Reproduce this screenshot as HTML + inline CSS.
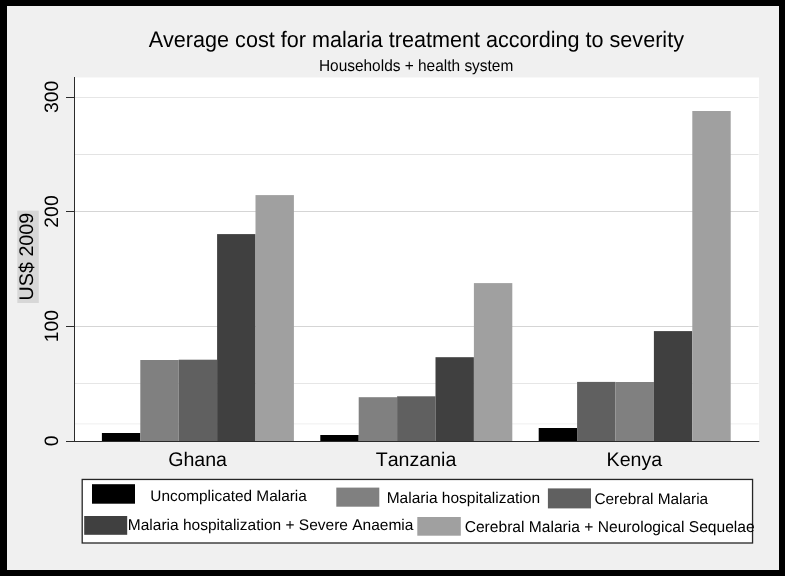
<!DOCTYPE html>
<html><head><meta charset="utf-8"><style>
html,body{margin:0;padding:0;background:#000;}
svg{display:block;will-change:transform;}
text{font-family:"Liberation Sans",sans-serif;fill:#000;font-kerning:none;text-rendering:geometricPrecision;}
</style></head><body>
<svg width="785" height="576" viewBox="0 0 785 576">
<rect x="0" y="0" width="785" height="576" fill="#000"/>
<rect x="7" y="6" width="772" height="564" fill="#f0f0f0"/>
<rect x="75" y="77.5" width="684" height="363.5" fill="#fff"/>
<rect x="75" y="97" width="683.5" height="1" fill="#e6e6e6"/>
<rect x="75" y="154" width="683.5" height="1" fill="#e3e3e3"/>
<rect x="75" y="211" width="683.5" height="1" fill="#d5d5d5"/>
<rect x="75" y="326" width="683.5" height="1" fill="#d5d5d5"/>
<rect x="75" y="383" width="683.5" height="1" fill="#e6e6e6"/>
<rect x="75" y="423.4" width="683.5" height="1" fill="#efefef"/>
<rect x="101.90" y="433.00" width="38.40" height="8.00" fill="#000000"/>
<rect x="140.30" y="360.00" width="38.40" height="81.00" fill="#808080"/>
<rect x="178.70" y="359.70" width="38.40" height="81.30" fill="#606060"/>
<rect x="217.10" y="234.10" width="38.40" height="206.90" fill="#404040"/>
<rect x="255.50" y="195.10" width="38.40" height="245.90" fill="#a0a0a0"/>
<rect x="320.30" y="435.00" width="38.40" height="6.00" fill="#000000"/>
<rect x="358.70" y="397.20" width="38.40" height="43.80" fill="#808080"/>
<rect x="397.10" y="396.30" width="38.40" height="44.70" fill="#606060"/>
<rect x="435.50" y="357.20" width="38.40" height="83.80" fill="#404040"/>
<rect x="473.90" y="283.10" width="38.40" height="157.90" fill="#a0a0a0"/>
<rect x="538.70" y="428.00" width="38.40" height="13.00" fill="#000000"/>
<rect x="577.10" y="381.90" width="38.40" height="59.10" fill="#606060"/>
<rect x="615.50" y="382.00" width="38.40" height="59.00" fill="#808080"/>
<rect x="653.90" y="331.10" width="38.40" height="109.90" fill="#404040"/>
<rect x="692.30" y="111.00" width="38.40" height="330.00" fill="#a0a0a0"/>
<rect x="74" y="77" width="1" height="365" fill="#2b2b2b"/>
<rect x="66" y="441" width="693.3" height="1" fill="#2b2b2b"/>
<rect x="66" y="97" width="8" height="1" fill="#2b2b2b"/>
<rect x="66" y="211" width="8" height="1" fill="#2b2b2b"/>
<rect x="66" y="326" width="8" height="1" fill="#2b2b2b"/>
<text transform="translate(58.2,440.8) rotate(-90)" text-anchor="middle" font-size="19.4">0</text>
<text transform="translate(58.2,326.1) rotate(-90)" text-anchor="middle" font-size="19.4">100</text>
<text transform="translate(58.2,211.5) rotate(-90)" text-anchor="middle" font-size="19.4">200</text>
<text transform="translate(58.2,96.8) rotate(-90)" text-anchor="middle" font-size="19.4">300</text>
<rect x="17.3" y="210.7" width="21.5" height="92.3" fill="#d7d7d7"/>
<text transform="translate(33.4,256.6) rotate(-90)" text-anchor="middle" font-size="19.7">US$ 2009</text>
<text x="197.6" y="465.8" text-anchor="middle" font-size="19.6">Ghana</text>
<text x="416.0" y="465.8" text-anchor="middle" font-size="19.6">Tanzania</text>
<text x="634.4" y="465.8" text-anchor="middle" font-size="19.6">Kenya</text>
<text transform="translate(416.3,46.9) scale(1,1.035)" text-anchor="middle" font-size="21.6">Average cost for malaria treatment according to severity</text>
<text transform="translate(416.1,70.8) scale(1,1.045)" text-anchor="middle" font-size="15.45">Households + health system</text>
<rect x="82.2" y="479.45" width="670.35" height="63.55" fill="#fff" stroke="#262626" stroke-width="1.3"/>
<rect x="92.0" y="484.2" width="43.0" height="19.5" fill="#000000"/>
<text x="150.3" y="500.5" font-size="15.4">Uncomplicated Malaria</text>
<rect x="336.3" y="487.6" width="43.0" height="19.1" fill="#808080"/>
<text x="386.7" y="502.9" font-size="15.5">Malaria hospitalization</text>
<rect x="547.9" y="488.4" width="43.1" height="20.0" fill="#606060"/>
<text x="594.4" y="503.8" font-size="15.4">Cerebral Malaria</text>
<rect x="84.2" y="516.0" width="43.0" height="18.8" fill="#404040"/>
<text x="127.8" y="530.0" font-size="15.5">Malaria hospitalization + Severe Anaemia</text>
<rect x="417.3" y="517.0" width="43.5" height="18.7" fill="#a0a0a0"/>
<text x="464.7" y="531.8" font-size="15.6">Cerebral Malaria + Neurological Sequelae</text>
</svg>
</body></html>
